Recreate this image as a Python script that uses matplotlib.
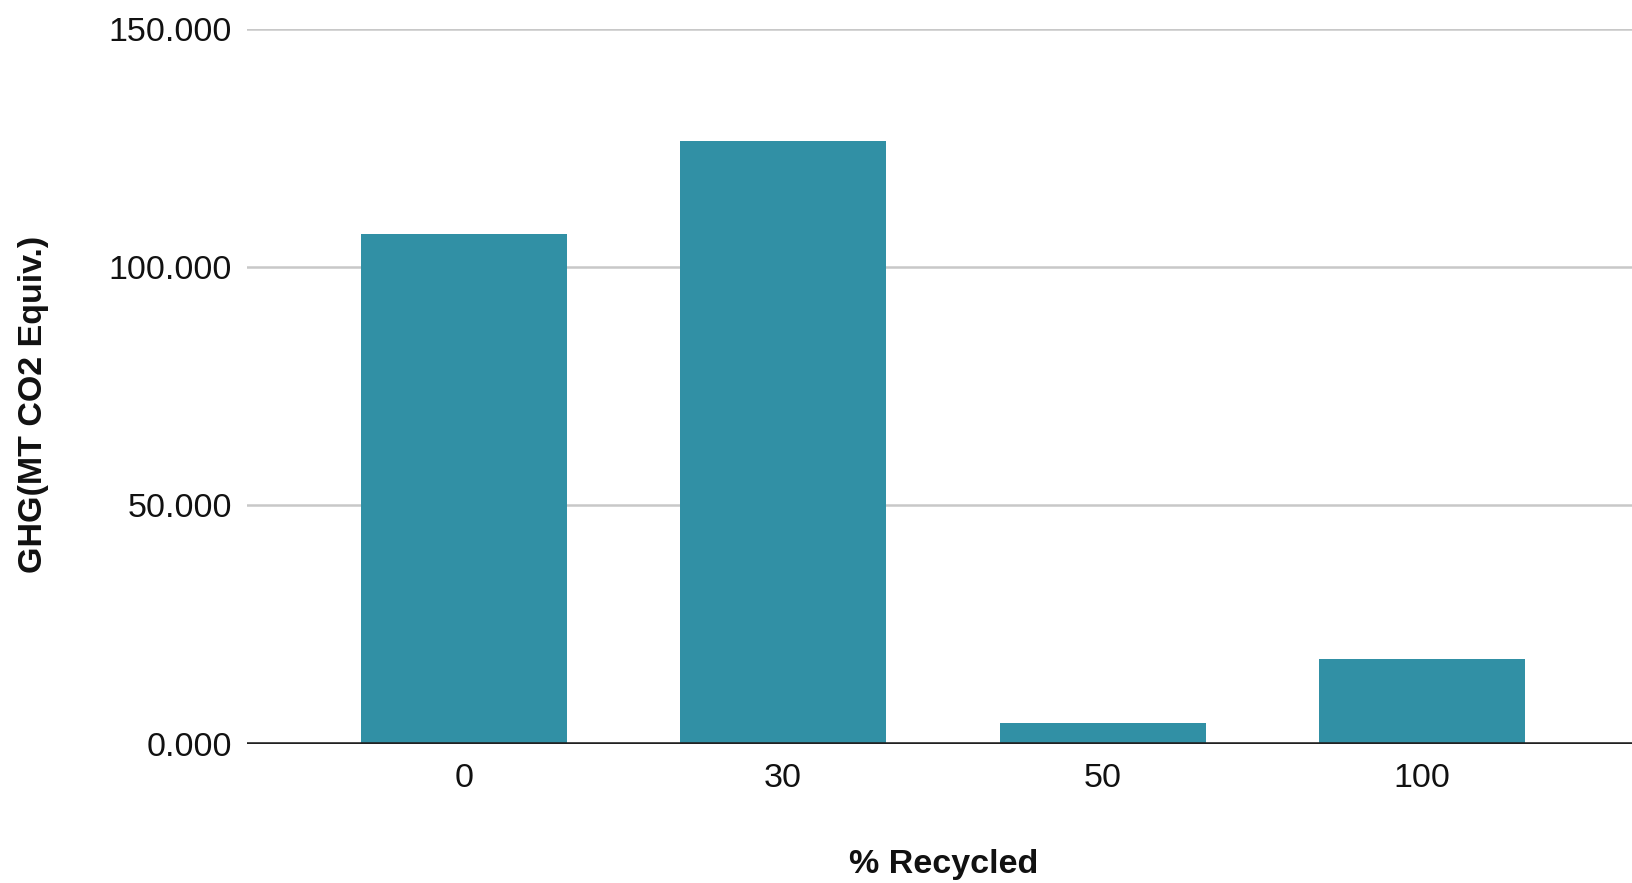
import matplotlib.pyplot as plt
from matplotlib.ticker import FuncFormatter

plt.rcParams['font.family'] = ['Liberation Sans', 'DejaVu Sans']

recycled = ['0', '30', '50', '100']
ghg = [107.1, 126.6, 4.4, 17.7]
yticks = [0, 50, 100, 150]

fig = plt.figure(figsize=(16.33, 8.83), dpi=100)
ax = fig.add_axes([0.1513, 0.1579, 0.8487, 0.809])

x = list(range(len(recycled)))
ax.bar(x, ghg, width=0.645, color='#3190a5', zorder=3)

ax.set_xlim(-0.678, 3.66)
ax.set_ylim(0, 150)
ax.set_yticks(yticks)
ax.yaxis.set_major_formatter(FuncFormatter(lambda v, p: f'{v:.3f}'))
ax.set_xticks(x)
ax.set_xticklabels(recycled)

ax.grid(axis='y', color='#c8c8c8', linewidth=1.8, zorder=0)
ax.axhline(0, color='#222222', linewidth=2.6, zorder=4)
for s in ax.spines.values():
    s.set_visible(False)
ax.tick_params(axis='both', length=0, labelsize=24.5, colors='#111111')
ax.tick_params(axis='y', pad=11)
ax.tick_params(axis='x', pad=14)

fig.text(0.5778, 0.021, '% Recycled', ha='center', va='center',
         fontsize=24.5, fontweight='bold', color='#111111')
fig.text(0.0208, 0.5425, 'GHG(MT CO2 Equiv.)', ha='center', va='center',
         rotation=90, fontsize=24.5, fontweight='bold', color='#111111')

fig.savefig('out.png', dpi=100, facecolor='white')
